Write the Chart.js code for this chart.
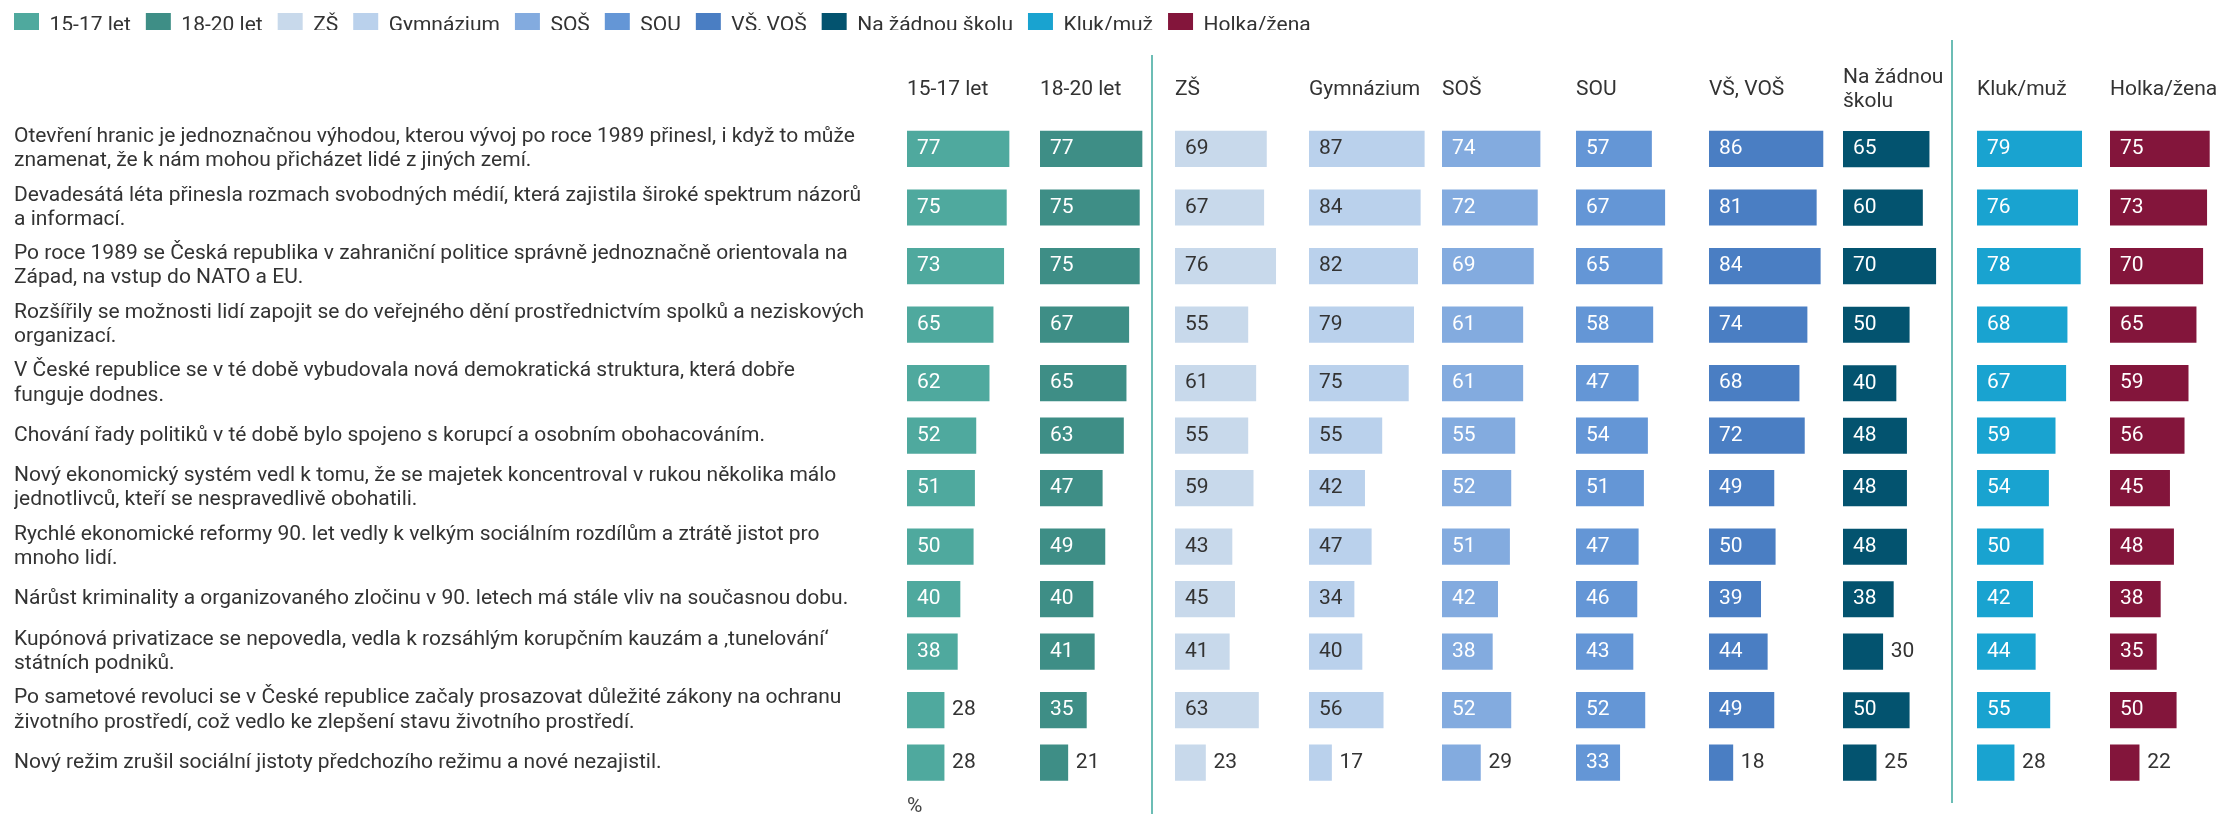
<!DOCTYPE html>
<html>
<head>
<meta charset="utf-8">
<script src="https://cdn.jsdelivr.net/npm/chart.js@4.4.1/dist/chart.umd.min.js"></script>
<style>
  html, body { margin: 0; padding: 0; background: #fff; }
  #wrap { position: relative; width: 2225px; height: 814px; overflow: hidden; }
  #wrap canvas { position: absolute; left: 0; top: 0; }
  #wrap #legendChart { top: -2px; }
  .sep { position: absolute; width: 1.5px; background: #6cbdb5; }
</style>
</head>
<body>
<div id="wrap">
  <canvas id="legendChart" width="2225" height="64"></canvas>
  <div class="sep" style="left:1151px; top:55px; height:759px"></div>
  <div class="sep" style="left:1951px; top:40px; height:763px"></div>
</div>
<script>
// statements (rows), wrapped as in the original
const statements = [
    ['Otevření hranic je jednoznačnou výhodou, kterou vývoj po roce 1989 přinesl, i když to může', 'znamenat, že k nám mohou přicházet lidé z jiných zemí.'],
    ['Devadesátá léta přinesla rozmach svobodných médií, která zajistila široké spektrum názorů', 'a informací.'],
    ['Po roce 1989 se Česká republika v zahraniční politice správně jednoznačně orientovala na', 'Západ, na vstup do NATO a EU.'],
    ['Rozšířily se možnosti lidí zapojit se do veřejného dění prostřednictvím spolků a neziskových', 'organizací.'],
    ['V České republice se v té době vybudovala nová demokratická struktura, která dobře', 'funguje dodnes.'],
    ['Chování řady politiků v té době bylo spojeno s korupcí a osobním obohacováním.'],
    ['Nový ekonomický systém vedl k tomu, že se majetek koncentroval v rukou několika málo', 'jednotlivců, kteří se nespravedlivě obohatili.'],
    ['Rychlé ekonomické reformy 90. let vedly k velkým sociálním rozdílům a ztrátě jistot pro', 'mnoho lidí.'],
    ['Nárůst kriminality a organizovaného zločinu v 90. letech má stále vliv na současnou dobu.'],
    ['Kupónová privatizace se nepovedla, vedla k rozsáhlým korupčním kauzám a ‚tunelování‘', 'státních podniků.'],
    ['Po sametové revoluci se v České republice začaly prosazovat důležité zákony na ochranu', 'životního prostředí, což vedlo ke zlepšení stavu životního prostředí.'],
    ['Nový režim zrušil sociální jistoty předchozího režimu a nové nezajistil.']
];

const groups = ['15-17 let', '18-20 let', 'ZŠ', 'Gymnázium', 'SOŠ', 'SOU', 'VŠ, VOŠ', 'Na žádnou školu', 'Kluk/muž', 'Holka/žena'];
const headers = [['15-17 let'], ['18-20 let'], ['ZŠ'], ['Gymnázium'], ['SOŠ'], ['SOU'], ['VŠ, VOŠ'], ['Na žádnou', 'školu'], ['Kluk/muž'], ['Holka/žena']];
const colors = ['#4fa99e', '#3e8e86', '#c8d9eb', '#bad1ec', '#83abdf', '#6496d6', '#4a7ec3', '#03536f', '#19a3d0', '#83153b'];
const labelColors = ['#fff', '#fff', '#333', '#333', '#fff', '#fff', '#fff', '#fff', '#fff', '#fff'];

// values in %
const age1517   = [77, 75, 73, 65, 62, 52, 51, 50, 40, 38, 28, 28];
const age1820   = [77, 75, 75, 67, 65, 63, 47, 49, 40, 41, 35, 21];
const zs        = [69, 67, 76, 55, 61, 55, 59, 43, 45, 41, 63, 23];
const gymnazium = [87, 84, 82, 79, 75, 55, 42, 47, 34, 40, 56, 17];
const sos       = [74, 72, 69, 61, 61, 55, 52, 51, 42, 38, 52, 29];
const sou       = [57, 67, 65, 58, 47, 54, 51, 47, 46, 43, 52, 33];
const vsVos     = [86, 81, 84, 74, 68, 72, 49, 50, 39, 44, 49, 18];
const zadna     = [65, 60, 70, 50, 40, 48, 48, 48, 38, 30, 50, 25];
const kluk      = [79, 76, 78, 68, 67, 59, 54, 50, 42, 44, 55, 28];
const holka     = [75, 73, 70, 65, 59, 56, 45, 48, 38, 35, 50, 22];
const seriesValues = [age1517, age1820, zs, gymnazium, sos, sou, vsVos, zadna, kluk, holka];

// layout
const CW = 2300, H = 814;
const COL_X = [907, 1040, 1175, 1309, 1442, 1576, 1709, 1843, 1977, 2110];
const COL_W = 132.5;
const TOP = 51;

Chart.defaults.font.family = 'Roboto';
Chart.defaults.font.size = 21;
Chart.defaults.font.lineHeight = 1.15;
Chart.defaults.color = '#333';

// rows with two-line labels get more room
const rowWeights = statements.map(s => s.length + 2.8);
let acc = 0;
const rowCenters = rowWeights.map(w => { const c = acc + w / 2; acc += w; return c; });
const totalWeight = acc;

const valueLabels = {
    id: 'valueLabels',
    afterDatasetsDraw(chart, args, opts) {
        const ctx = chart.ctx;
        const ds = chart.data.datasets[0];
        ctx.save();
        ctx.font = '21px Roboto';
        ctx.textBaseline = 'middle';
        ctx.textAlign = 'left';
        chart.getDatasetMeta(0).data.forEach((bar, i) => {
            const text = String(ds.data[i].x);
            const tw = ctx.measureText(text).width;
            if (Math.abs(bar.x - bar.base) >= tw + 18) {
                ctx.fillStyle = opts.inside;
                ctx.fillText(text, bar.base + 10, bar.y);
            } else {
                ctx.fillStyle = '#333';
                ctx.fillText(text, bar.x + 8, bar.y);
            }
        });
        ctx.restore();
    }
};

// legend only
new Chart(document.getElementById('legendChart'), {
    type: 'bar',
    data: {
        labels: [],
        datasets: groups.map((g, i) => ({ label: g, data: [], backgroundColor: colors[i], borderWidth: 0 }))
    },
    options: {
        responsive: false,
        animation: false,
        layout: { padding: { left: -1 } },
        scales: { x: { display: false }, y: { display: false } },
        plugins: {
            tooltip: { enabled: false },
            legend: {
                position: 'top',
                align: 'start',
                onClick: null,
                labels: { boxWidth: 25, boxHeight: 25, padding: 15, color: '#333', font: { size: 21 } }
            }
        }
    }
});

const wrap = document.getElementById('wrap');

seriesValues.forEach((values, i) => {
    const canvas = document.createElement('canvas');
    canvas.width = CW;
    canvas.height = H;
    wrap.appendChild(canvas);
    const first = i === 0;
    const lines = headers[i].length;

    const yAxis = {
        type: 'linear',
        reverse: true,
        offset: false,
        min: 0,
        max: totalWeight,
        display: first,
        grid: { display: false, drawTicks: false, offset: false },
        border: { display: false },
        afterBuildTicks: scale => { scale.ticks = rowCenters.map(v => ({ value: v })); },
        ticks: {
            autoSkip: false,
            crossAlign: 'far',
            color: '#333',
            font: { size: 21 },
            callback: (v, idx) => statements[idx]
        }
    };
    if (first) {
        yAxis.afterFit = scale => { scale.width = COL_X[0] - 14; };
    }

    new Chart(canvas, {
        type: 'bar',
        data: {
            datasets: [{
                label: groups[i],
                data: values.map((v, r) => ({ x: v, y: rowCenters[r] })),
                backgroundColor: colors[i],
                barThickness: 35.5
            }]
        },
        options: {
            responsive: false,
            animation: false,
            indexAxis: 'y',
            events: [],
            layout: {
                padding: { top: TOP, bottom: -5, left: first ? 14 : COL_X[i], right: CW - COL_X[i] - COL_W }
            },
            plugins: {
                legend: { display: false },
                tooltip: { enabled: false },
                title: {
                    display: true,
                    text: headers[i],
                    align: 'start',
                    fullSize: false,
                    color: '#333',
                    font: { size: 21, weight: 'normal' },
                    padding: { top: 39 - 12 * lines, bottom: 29.5 - 12 * lines }
                },
                valueLabels: { inside: labelColors[i] }
            },
            scales: {
                x: {
                    min: 0,
                    max: 100,
                    grid: { display: false, drawTicks: false },
                    border: { display: false },
                    ticks: { display: false },
                    title: {
                        display: true,
                        text: first ? '%' : '',
                        align: 'start',
                        color: '#444',
                        font: { size: 21 },
                        padding: { top: 9, bottom: 0 }
                    }
                },
                y: yAxis
            }
        },
        plugins: [valueLabels]
    });
});
</script>
</body>
</html>
